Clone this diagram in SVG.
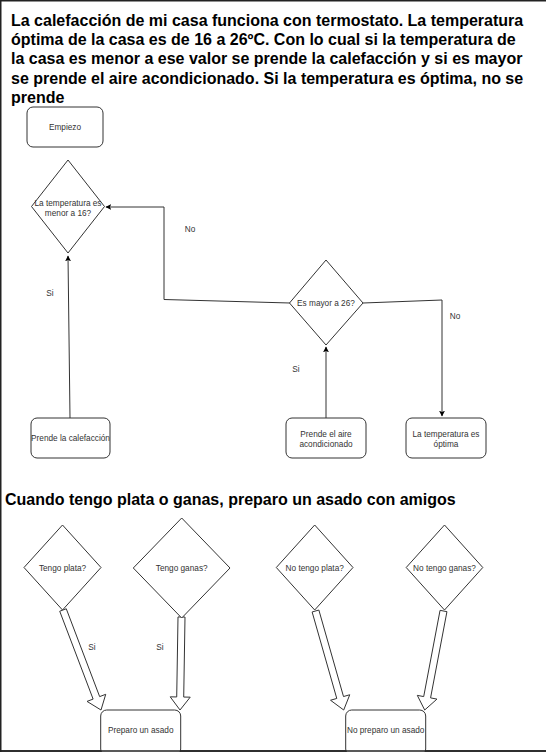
<svg xmlns="http://www.w3.org/2000/svg" width="546" height="752" viewBox="0 0 546 752">
<style>
.title{font-family:"Liberation Sans",Arial,sans-serif;font-size:16px;font-weight:bold;fill:#000}
.lbl{font-family:"Liberation Sans",Arial,sans-serif;font-size:8.25px;fill:#333;text-anchor:middle}
.shape{fill:#fff;stroke:#333;stroke-width:1}
.edge{fill:none;stroke:#333;stroke-width:1}
.flex{fill:#fff;stroke:#333;stroke-width:1;stroke-linejoin:miter}
.frame{stroke:#222;stroke-width:1.5;fill:none}
</style>
<defs>
<marker id="arr" viewBox="0 0 10 10" refX="9" refY="5" markerWidth="6" markerHeight="6" markerUnits="userSpaceOnUse" orient="auto">
<path d="M0,0 L10,5 L0,10 L2.5,5 Z" fill="#000"/>
</marker>
</defs>
<rect width="546" height="752" fill="#fff"/>
<g id="frame">
<line class="frame" x1="0" y1="0.75" x2="546" y2="0.75"/>
<line class="frame" x1="0.75" y1="0" x2="0.75" y2="752"/>
<line class="frame" x1="0" y1="751" x2="546" y2="751"/>
</g>
<g id="title1">
<text class="title" x="11" y="26">La calefacción de mi casa funciona con termostato. La temperatura</text>
<text class="title" x="11" y="45.2">óptima de la casa es de 16 a 26ºC. Con lo cual si la temperatura de</text>
<text class="title" x="11" y="64.4">la casa es menor a ese valor se prende la calefacción y si es mayor</text>
<text class="title" x="11" y="83.6">se prende el aire acondicionado. Si la temperatura es óptima, no se</text>
<text class="title" x="11" y="102.8">prende</text>
</g>
<g id="title2">
<text class="title" x="5" y="505">Cuando tengo plata o ganas, preparo un asado con amigos</text>
</g>
<g id="connectors">
<path class="edge" d="M70,418 L68,256" marker-end="url(#arr)"/>
<path class="edge" d="M290,303 L164,299.5 L164,207 L106,207" marker-end="url(#arr)"/>
<path class="edge" d="M326,418 L326,347" marker-end="url(#arr)"/>
<path class="edge" d="M363,303 L442,300 L442,416" marker-end="url(#arr)"/>
<polygon class="flex" points="59.73,611.24 93.11,699.09 87.03,701.4 101,710 105.73,694.3 99.65,696.61 66.27,608.76"/>
<polygon class="flex" points="178,616.94 176.71,696.94 170.21,696.84 180,710 190.21,697.16 183.71,697.06 185,617.06"/>
<polygon class="flex" points="312.13,611.96 336.77,698.46 330.52,700.24 343.7,710 349.76,694.76 343.51,696.54 318.87,610.04"/>
<polygon class="flex" points="440.06,610.35 423.69,696.58 417.31,695.36 424.7,710 436.95,699.1 430.57,697.88 446.94,611.65"/>
<text class="lbl" x="190" y="232">No</text>
<text class="lbl" x="50" y="296">Si</text>
<text class="lbl" x="296" y="372">Si</text>
<text class="lbl" x="455" y="319">No</text>
<text class="lbl" x="92" y="650">Si</text>
<text class="lbl" x="160" y="650">Si</text>
</g>
<g id="empiezo">
<rect class="shape" x="27" y="107" width="76" height="40" rx="6"/>
<text class="lbl" x="65" y="130">Empiezo</text>
</g>
<g id="menor16">
<polygon class="shape" points="68,160 104.5,206.5 68,253 31.5,206.5"/>
<text class="lbl" x="68" y="206">La temperatura es</text>
<text class="lbl" x="68" y="216">menor a 16?</text>
</g>
<g id="mayor26">
<polygon class="shape" points="326,260 363,303 326,345 289.5,303"/>
<text class="lbl" x="326" y="306">Es mayor a 26?</text>
</g>
<g id="calefaccion">
<rect class="shape" x="31" y="418" width="79" height="40" rx="6"/>
<text class="lbl" x="70.5" y="441">Prende la calefacción</text>
</g>
<g id="aire">
<rect class="shape" x="286" y="418" width="80" height="40" rx="6"/>
<text class="lbl" x="326" y="437">Prende el aire</text>
<text class="lbl" x="326" y="447">acondicionado</text>
</g>
<g id="optima">
<rect class="shape" x="406" y="418" width="80" height="40" rx="6"/>
<text class="lbl" x="446" y="437">La temperatura es</text>
<text class="lbl" x="446" y="447">óptima</text>
</g>
<g id="plata">
<polygon class="shape" points="62.5,525 101,567.5 62.5,610 24,567.5"/>
<text class="lbl" x="62.5" y="571">Tengo plata?</text>
</g>
<g id="ganas">
<polygon class="shape" points="181.7,518 230,568 181.7,618 133.3,568"/>
<text class="lbl" x="181.7" y="571">Tengo ganas?</text>
</g>
<g id="noplata">
<polygon class="shape" points="314.7,525 353,567.5 314.7,610 276.3,567.5"/>
<text class="lbl" x="314.7" y="571">No tengo plata?</text>
</g>
<g id="noganas">
<polygon class="shape" points="444.5,525 482.8,567.5 444.5,610 406.2,567.5"/>
<text class="lbl" x="444.5" y="571">No tengo ganas?</text>
</g>
<g id="asado">
<rect class="shape" x="100.7" y="710" width="80" height="45" rx="6"/>
<text class="lbl" x="140.7" y="733">Preparo un asado</text>
</g>
<g id="noasado">
<rect class="shape" x="345.7" y="710" width="80" height="45" rx="6"/>
<text class="lbl" x="385.7" y="733">No preparo un asado</text>
</g>
<line class="frame" x1="0" y1="751" x2="546" y2="751"/>
</svg>
